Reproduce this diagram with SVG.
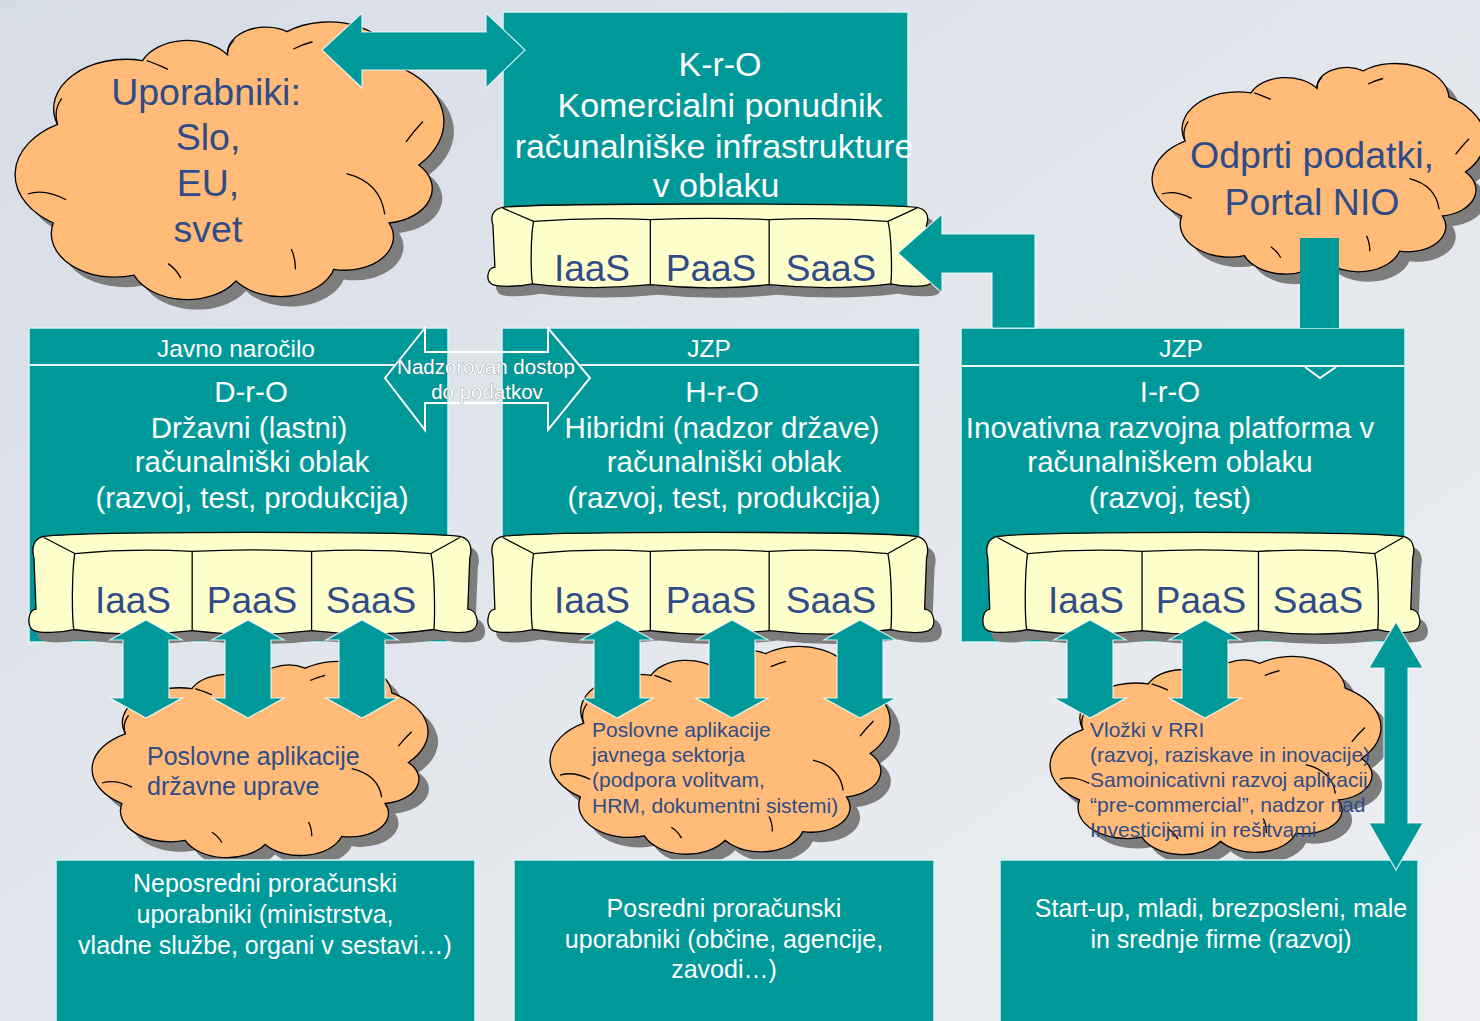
<svg xmlns="http://www.w3.org/2000/svg" xmlns:xlink="http://www.w3.org/1999/xlink" width="1480" height="1021" viewBox="0 0 1480 1021">
<style>
.bg{fill:url(#bgGrad)}
.teal{fill:#009999}
.box{fill:#009999;stroke:#d9f2f2;stroke-width:1.5}
.hline{stroke:#e8f7f7;stroke-width:2;fill:none}
.wt{fill:#ffffff;font-family:"Liberation Sans",Arial,sans-serif;text-anchor:middle}
.bt{fill:#2f4c88;font-family:"Liberation Sans",Arial,sans-serif}
.cshadow{fill:#7d7d7d}
.cfill{fill:#ffbb77;stroke:#000;stroke-width:1.3}
.cline{fill:none;stroke:#000;stroke-width:1.3}
.sshadow{fill:#7d7d7d}
.sfill{fill:#ffffcc;stroke:#000;stroke-width:1.3}
.sline{fill:none;stroke:#000;stroke-width:1.3}
.arr{fill:#009999;stroke:#ffffff;stroke-width:1.2;stroke-opacity:0.8}
.sofa-t{fill:#2f4c88;font-family:"Liberation Sans",Arial,sans-serif;font-size:37px;text-anchor:middle}
</style>
<defs>
<linearGradient id="bgGrad" x1="0" y1="0" x2="1" y2="1">
<stop offset="0" stop-color="#d6dce6"/>
<stop offset="0.5" stop-color="#e3e7ed"/>
<stop offset="1" stop-color="#eceef2"/>
</linearGradient>
<path id="cloudPath" vector-effect="non-scaling-stroke" d="M 10 36 A 17 17 0 0 1 30 14 A 11.5 11.5 0 0 1 50 12 A 9 9 0 0 1 64 4 A 16.2 16.2 0 0 1 90 16 A 22 22 0 0 1 95 50 A 12 12 0 0 1 88 70 A 11.5 11.5 0 0 1 75 86 A 13 13 0 0 1 52 90 A 13.5 13.5 0 0 1 28 88 A 15 15 0 0 1 9 70 A 20 20 0 0 1 10 36 Z"/>
<path id="cloudInner" vector-effect="non-scaling-stroke" d="M 10 36 Q 9 31 11 27 M 31 14 Q 33 15 36 17 M 50 12 Q 50 9 51.5 7 M 65.5 10 Q 67.5 8.5 70 7.5 M 92 42 Q 94 38 96 35 M 78 53 Q 86 56 87 67 M 65 79 Q 66 82 66 86 M 36 84 Q 38 86 39 89 M 3 60 Q 7 58 12 62"/>
<path id="sofaOuter" vector-effect="non-scaling-stroke" d="M 16 6 C 60 1 390 1 434 6 C 444 8 447 16 444 26 L 442 74 C 452 75 455 90 446 94 C 438 97 420 96 408 93 Q 347 101 285 94 Q 225 101 165 94 Q 105 101 46 93 C 32 96 14 97 6 94 C -2 90 0 75 8 74 L 6 26 C 3 16 6 8 16 6 Z"/>
<path id="sofaInner" vector-effect="non-scaling-stroke" d="M 16 7 L 47 22 M 434 7 L 405 22 M 47 22 C 44 40 44 80 46 93 M 405 22 C 409 40 409 80 408 93 M 47 22 Q 105 17 165 20 Q 225 17 285 20 Q 345 17 405 22 M 165 20 L 165 94 M 285 20 L 285 94"/>
<path id="vArrow" d="M 0 0 L 36 20 L 23 20 L 23 78 L 36 78 L 0 98 L -36 78 L -23 78 L -23 20 L -36 20 Z"/>
</defs>

<rect class="bg" x="0" y="0" width="1480" height="1021"/>

<g id="cloud-users">
<use href="#cloudPath" class="cshadow" transform="translate(25,30) scale(4.25,2.9)"/>
<use href="#cloudPath" class="cfill" transform="translate(15,20) scale(4.25,2.9)"/>
<use href="#cloudInner" class="cline" transform="translate(15,20) scale(4.25,2.9)"/>
<text class="bt" font-size="37.5" text-anchor="middle"><tspan x="206" y="105">Uporabniki:</tspan><tspan x="208" y="150">Slo,</tspan><tspan x="208" y="196">EU,</tspan><tspan x="208" y="242">svet</tspan></text>
</g>

<g id="node-kro">
<rect class="box" x="503" y="12" width="405" height="220"/>
<text class="wt" font-size="34"><tspan x="720" y="76">K-r-O</tspan><tspan x="720" y="117">Komercialni ponudnik</tspan><tspan x="714" y="158">računalniške infrastrukture</tspan><tspan x="716" y="197">v oblaku</tspan></text>
<use href="#sofaOuter" class="sshadow" transform="translate(495,212) scale(0.99,0.88)"/>
<use href="#sofaOuter" class="sfill" transform="translate(487,202) scale(0.99,0.88)"/>
<use href="#sofaInner" class="sline" transform="translate(487,202) scale(0.99,0.88)"/>
<text class="sofa-t"><tspan x="592" y="281">IaaS</tspan><tspan x="711" y="281">PaaS</tspan><tspan x="831" y="281">SaaS</tspan></text>
</g>

<g id="cloud-open-data">
<use href="#cloudPath" class="cshadow" transform="translate(1162,72) scale(3.3,2.2)"/>
<use href="#cloudPath" class="cfill" transform="translate(1152,62) scale(3.3,2.2)"/>
<use href="#cloudInner" class="cline" transform="translate(1152,62) scale(3.3,2.2)"/>
<text class="bt" font-size="37.5" text-anchor="middle"><tspan x="1312" y="168">Odprti podatki,</tspan><tspan x="1312" y="215">Portal NIO</tspan></text>
</g>

<g id="node-dro">
<rect class="box" x="29" y="328" width="419" height="314"/>
<line class="hline" x1="30" y1="365" x2="395" y2="365"/>
<text class="wt" font-size="24.5" x="236" y="357">Javno naročilo</text>
<text class="wt" font-size="29.5"><tspan x="251" y="402">D-r-O</tspan><tspan x="249" y="438">Državni (lastni)</tspan><tspan x="252" y="472">računalniški oblak</tspan><tspan x="252" y="508">(razvoj, test, produkcija)</tspan></text>
<use href="#sofaOuter" class="sshadow" transform="translate(36,540) scale(0.995,1.07)"/>
<use href="#sofaOuter" class="sfill" transform="translate(28,530) scale(0.995,1.07)"/>
<use href="#sofaInner" class="sline" transform="translate(28,530) scale(0.995,1.07)"/>
<text class="sofa-t"><tspan x="133" y="613">IaaS</tspan><tspan x="252" y="613">PaaS</tspan><tspan x="371" y="613">SaaS</tspan></text>
</g>

<g id="node-hro">
<rect class="box" x="502" y="328" width="418" height="290"/>
<line class="hline" x1="579" y1="365" x2="919" y2="365"/>
<text class="wt" font-size="24.5" x="709" y="357">JZP</text>
<text class="wt" font-size="29.5"><tspan x="722" y="402">H-r-O</tspan><tspan x="722" y="438">Hibridni (nadzor države)</tspan><tspan x="724" y="472">računalniški oblak</tspan><tspan x="724" y="508">(razvoj, test, produkcija)</tspan></text>
<use href="#sofaOuter" class="sshadow" transform="translate(495,540) scale(0.99,1.07)"/>
<use href="#sofaOuter" class="sfill" transform="translate(487,530) scale(0.99,1.07)"/>
<use href="#sofaInner" class="sline" transform="translate(487,530) scale(0.99,1.07)"/>
<text class="sofa-t"><tspan x="592" y="613">IaaS</tspan><tspan x="711" y="613">PaaS</tspan><tspan x="831" y="613">SaaS</tspan></text>
</g>

<g id="node-iro">
<rect class="box" x="961" y="328" width="444" height="314"/>
<line class="hline" x1="962" y1="366" x2="1404" y2="366"/>
<text class="wt" font-size="24.5" x="1181" y="357">JZP</text>
<text class="wt" font-size="29.5"><tspan x="1170" y="402">I-r-O</tspan><tspan x="1170" y="438">Inovativna razvojna platforma v</tspan><tspan x="1170" y="472">računalniškem oblaku</tspan><tspan x="1170" y="508">(razvoj, test)</tspan></text>
<use href="#sofaOuter" class="sshadow" transform="translate(990,540) scale(0.97,1.07)"/>
<use href="#sofaOuter" class="sfill" transform="translate(982,530) scale(0.97,1.07)"/>
<use href="#sofaInner" class="sline" transform="translate(982,530) scale(0.97,1.07)"/>
<text class="sofa-t"><tspan x="1086" y="613">IaaS</tspan><tspan x="1201" y="613">PaaS</tspan><tspan x="1318" y="613">SaaS</tspan></text>
</g>

<g id="cloud-apps-state">
<use href="#cloudPath" class="cshadow" transform="translate(102,670) scale(3.33,2.05)"/>
<use href="#cloudPath" class="cfill" transform="translate(92,660) scale(3.33,2.05)"/>
<use href="#cloudInner" class="cline" transform="translate(92,660) scale(3.33,2.05)"/>
<text class="bt" font-size="25"><tspan x="147" y="765">Poslovne aplikacije</tspan><tspan x="147" y="795">državne uprave</tspan></text>
</g>

<g id="cloud-apps-public">
<use href="#cloudPath" class="cshadow" transform="translate(560,655) scale(3.37,2.17)"/>
<use href="#cloudPath" class="cfill" transform="translate(550,645) scale(3.37,2.17)"/>
<use href="#cloudInner" class="cline" transform="translate(550,645) scale(3.37,2.17)"/>
<text class="bt" font-size="21"><tspan x="592" y="737">Poslovne aplikacije</tspan><tspan x="592" y="762">javnega sektorja</tspan><tspan x="592" y="787">(podpora volitvam,</tspan><tspan x="592" y="813">HRM, dokumentni sistemi)</tspan></text>
</g>

<g id="cloud-rri">
<use href="#cloudPath" class="cshadow" transform="translate(1060,665) scale(3.28,2.07)"/>
<use href="#cloudPath" class="cfill" transform="translate(1050,655) scale(3.28,2.07)"/>
<use href="#cloudInner" class="cline" transform="translate(1050,655) scale(3.28,2.07)"/>
<text class="bt" font-size="21"><tspan x="1090" y="737">Vložki v RRI</tspan><tspan x="1090" y="762">(razvoj, raziskave in inovacije)</tspan><tspan x="1090" y="787">Samoinicativni razvoj aplikacij</tspan><tspan x="1090" y="812">“pre-commercial”, nadzor nad</tspan><tspan x="1090" y="837">Investicijami in rešitvami</tspan></text>
</g>

<g id="node-direct-users">
<rect class="box" x="56" y="860" width="419" height="170"/>
<text class="wt" font-size="25"><tspan x="265" y="892">Neposredni proračunski</tspan><tspan x="265" y="923">uporabniki (ministrstva,</tspan><tspan x="265" y="954">vladne službe, organi v sestavi…)</tspan></text>
</g>

<g id="node-indirect-users">
<rect class="box" x="514" y="860" width="420" height="170"/>
<text class="wt" font-size="25"><tspan x="724" y="917">Posredni proračunski</tspan><tspan x="724" y="948">uporabniki (občine, agencije,</tspan><tspan x="724" y="978">zavodi…)</tspan></text>
</g>

<g id="node-startups">
<rect class="box" x="1000" y="860" width="418" height="170"/>
<text class="wt" font-size="25"><tspan x="1221" y="917">Start-up, mladi, brezposleni, male</tspan><tspan x="1221" y="948">in srednje firme (razvoj)</tspan></text>
</g>

<g id="connectors">
<polygon class="arr" points="322,50 362,13 362,32 486,32 486,13 525,50 486,88 486,70 362,70 362,88"/>
<polygon class="arr" points="898,253 942,214 942,234 1035,234 1035,328 992,328 992,273 942,273 942,293"/>
<rect class="teal" x="1300" y="238" width="39" height="90"/>
<polyline points="1305,367 1320,378 1336,367" fill="none" stroke="#ffffff" stroke-width="2"/>
<polygon points="385,378 425,328 425,352 548,352 548,328 590,378 548,430 548,403 425,403 425,430" fill="none" stroke="#ffffff" stroke-width="2"/>
<text class="wt" font-size="20.5" stroke="#557577" stroke-width="0.6" paint-order="stroke"><tspan x="486" y="374">Nadzorovan dostop</tspan><tspan x="487" y="399">do podatkov</tspan></text>
<use href="#vArrow" class="arr" transform="translate(146,620)"/>
<use href="#vArrow" class="arr" transform="translate(248,620)"/>
<use href="#vArrow" class="arr" transform="translate(362,620)"/>
<use href="#vArrow" class="arr" transform="translate(617,620)"/>
<use href="#vArrow" class="arr" transform="translate(732,620)"/>
<use href="#vArrow" class="arr" transform="translate(860,620)"/>
<use href="#vArrow" class="arr" transform="translate(1090,620)"/>
<use href="#vArrow" class="arr" transform="translate(1205,620)"/>
<polygon class="arr" points="1396,622 1423,668 1408,668 1408,823 1423,823 1396,870 1369,823 1384,823 1384,668 1369,668"/>
</g>
</svg>
